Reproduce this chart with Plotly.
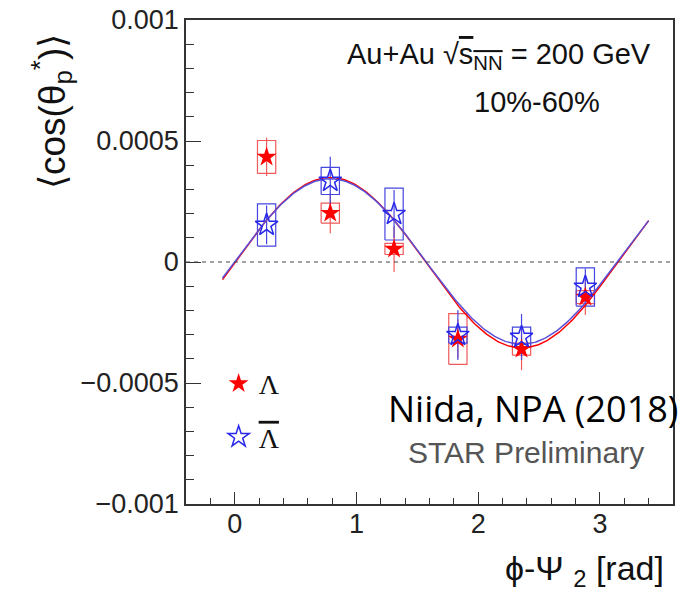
import plotly.graph_objects as go
import numpy as np

# ---------------- data ----------------
phi = [0.262, 0.785, 1.309, 1.833, 2.356, 2.880]

lam_y = [0.000434, 0.000202, 0.000054, -0.000318, -0.000360, -0.000145]
lam_stat = [0.000079, 0.000083, 0.000095, 0.000080, 0.000087, 0.000074]
lam_sys = [0.000068, 0.000041, 0.000023, 0.000105, 0.000025, 0.000027]

alam_y = [0.000153, 0.000335, 0.000198, -0.000302, -0.000310, -0.000103]
alam_stat = [0.000080, 0.000100, 0.000100, 0.000103, 0.000095, 0.000076]
alam_sys = [0.000087, 0.000056, 0.000107, 0.000033, 0.000041, 0.000079]

# fit  c + A*sin(2x)
lam_fit = dict(A=0.000352, c=-0.000003)
alam_fit = dict(A=0.000342, c=0.000002)
fit_x_range = (-0.1, 3.4)

x_ticks = [0, 1, 2, 3]
x_ticktext = ["0", "1", "2", "3"]
y_ticks = [-0.001, -0.0005, 0, 0.0005, 0.001]
y_ticktext = ["\u22120.001", "\u22120.0005", "0", "0.0005", "0.001"]

RED = "rgb(255,0,0)"
RED_L = "rgb(240,90,90)"
BLUE = "rgb(40,40,235)"
BLUE_L = "rgb(70,70,225)"
BLUE_FIT = "rgb(90,80,215)"

BOX_HW = 0.075


def boxes(xs, ys, es):
    bx, by = [], []
    for x, y, e in zip(xs, ys, es):
        bx += [x - BOX_HW, x + BOX_HW, x + BOX_HW, x - BOX_HW, x - BOX_HW, None]
        by += [y - e, y - e, y + e, y + e, y - e, None]
    return bx, by


def bars(xs, ys, es):
    bx, by = [], []
    for x, y, e in zip(xs, ys, es):
        bx += [x, x, None]
        by += [y - e, y + e, None]
    return bx, by


fig = go.Figure()

for ys, sy, st, col in [(lam_y, lam_sys, lam_stat, RED_L), (alam_y, alam_sys, alam_stat, BLUE_L)]:
    bx, by = boxes(phi, ys, sy)
    fig.add_trace(go.Scatter(x=bx, y=by, mode="lines", line=dict(color=col, width=1.2),
                             showlegend=False, hoverinfo="skip"))
    ex, ey = bars(phi, ys, st)
    fig.add_trace(go.Scatter(x=ex, y=ey, mode="lines", line=dict(color=col, width=1.2),
                             showlegend=False, hoverinfo="skip"))

xf = np.linspace(fit_x_range[0], fit_x_range[1], 300)
for p, col in [(lam_fit, RED), (alam_fit, BLUE_FIT)]:
    fig.add_trace(go.Scatter(x=xf, y=p["c"] + p["A"] * np.sin(2 * xf), mode="lines",
                             line=dict(color=col, width=1.5), showlegend=False, hoverinfo="skip"))

fig.add_trace(go.Scatter(x=phi, y=lam_y, mode="markers", name="\u039b",
                         marker=dict(symbol="star", size=15, color=RED, line=dict(width=0)),
                         legendgroup="a"))
fig.add_trace(go.Scatter(x=phi, y=alam_y, mode="markers",
                         name="<span style='text-decoration:overline'>\u039b</span>",
                         marker=dict(symbol="star-open", size=17, color=BLUE, line=dict(width=1.5, color=BLUE)),
                         legendgroup="b"))

fig.add_shape(type="line", xref="paper", x0=0, x1=1, yref="y", y0=0, y1=0,
              line=dict(color="#444", width=1, dash="4px,4px"))

SANS = "Liberation Sans, Arial, Helvetica, sans-serif"

fig.add_annotation(xref="paper", yref="paper", x=0.958, y=0.925, xanchor="right", yanchor="middle",
                   text="Au+Au \u221a<span style='text-decoration:overline'>s<sub>NN</sub></span> = 200 GeV",
                   showarrow=False, font=dict(family=SANS, size=29, color="#111"))
fig.add_annotation(xref="paper", yref="paper", x=0.72, y=0.83, xanchor="center", yanchor="middle",
                   text="10%-60%", showarrow=False, font=dict(family=SANS, size=29, color="#111"))
fig.add_annotation(xref="paper", yref="paper", x=0.698, y=0.106, xanchor="center", yanchor="middle",
                   text="STAR Preliminary", showarrow=False, font=dict(family=SANS, size=30, color="#555"))
fig.add_annotation(xref="paper", yref="paper", x=0.41, y=0.198, xanchor="left", yanchor="middle",
                   text="Niida, NPA (2018)", showarrow=False,
                   font=dict(family="Open Sans, Lato, sans-serif", size=36, color="#000"))
fig.add_annotation(xref="paper", yref="paper", x=-0.275, y=0.81, xanchor="center", yanchor="middle",
                   text="\u27e8cos(\u03b8<sub>p</sub><sup>*</sup>)\u27e9", textangle=-90,
                   showarrow=False, font=dict(family=SANS, size=37, color="#111"))
fig.add_annotation(xref="paper", yref="paper", x=0.985, y=-0.137, xanchor="right", yanchor="middle",
                   text="\u03d5-\u03a8\u00a0<sub>2</sub>\u00a0[rad]", showarrow=False,
                   font=dict(family=SANS, size=34, color="#111"))

axis_common = dict(showline=True, mirror=True, linecolor="#333", linewidth=1.5, showgrid=False,
                   zeroline=False, ticks="inside", tickcolor="#333", tickwidth=1.2, automargin=False,
                   tickfont=dict(family=SANS, size=27, color="#222"))

fig.update_xaxes(range=[-0.4, 3.6], tickmode="array", tickvals=x_ticks, ticktext=x_ticktext,
                 ticklen=12, ticklabelstandoff=-5,
                 minor=dict(tickmode="linear", tick0=0, dtick=0.2, ticklen=6,
                            ticks="inside", tickcolor="#333", tickwidth=1),
                 **axis_common)
fig.update_yaxes(range=[-0.001, 0.001], tickmode="array", tickvals=y_ticks, ticktext=y_ticktext,
                 ticklen=15,
                 minor=dict(tickmode="linear", tick0=0, dtick=0.0001, ticklen=8,
                            ticks="inside", tickcolor="#333", tickwidth=1),
                 **axis_common)

fig.update_layout(width=698, height=605, margin=dict(l=186, r=25, t=20, b=101),
                  paper_bgcolor="white", plot_bgcolor="white",
                  legend=dict(x=0.067, y=0.30, xanchor="left", yanchor="top", bgcolor="rgba(0,0,0,0)",
                              font=dict(family="Liberation Serif, Times New Roman, serif", size=28, color="#111"),
                              tracegroupgap=14),
                  showlegend=True)

fig.write_html("out.html")
